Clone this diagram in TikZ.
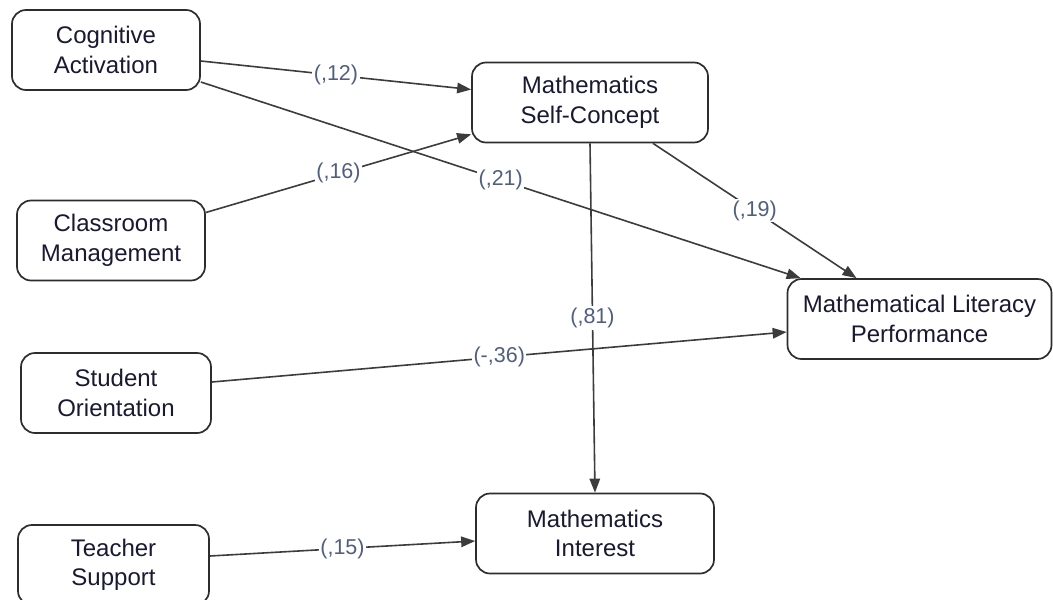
\documentclass[tikz,border=0pt]{standalone}
\usepackage{fontspec}
\setmainfont{Liberation Sans}
\usetikzlibrary{arrows.meta}
\definecolor{boxline}{RGB}{45,45,45}
\definecolor{edgeline}{RGB}{60,60,60}
\definecolor{nodetext}{RGB}{25,25,50}
\definecolor{coeftext}{RGB}{80,94,128}
\begin{document}
\begin{tikzpicture}[x=1pt,y=-1pt,
  var/.style={draw=boxline, line width=1.7pt, rounded corners=14pt, fill=white,
    minimum height=80pt, align=center, text=nodetext, inner sep=0pt,
    font=\fontsize{24}{29.5}\selectfont},
  link/.style={draw=edgeline, line width=1.6pt, -{Triangle[length=14pt,width=10.5pt]}},
  coef/.style={fill=white, text=coeftext, inner sep=1.5pt, midway,
    font=\fontsize{21.5}{24}\selectfont}
]
\useasboundingbox (0,0) rectangle (1053,600);
\clip (0,0) rectangle (1053,600);

% latent variables
\node[var, minimum width=188pt] (ca)  at (106,50)    {Cognitive\\Activation};
\node[var, minimum width=236pt] (sc)  at (590,102.5) {Mathematics\\Self-Concept};
\node[var, minimum width=188pt] (cm)  at (111,240.5) {Classroom\\Management};
\node[var, minimum width=264pt] (mlp) at (919.5,319) {Mathematical Literacy\\Performance};
\node[var, minimum width=190pt] (so)  at (116,393)   {Student\\Orientation};
\node[var, minimum width=238pt] (mi)  at (595,533.5) {Mathematics\\Interest};
\node[var, minimum width=191pt] (ts)  at (113.5,565) {Teacher\\Support};

% path coefficients
\draw[link] ([yshift=-11pt]ca.east) -- node[coef]{(,12)} ([yshift=13pt]sc.west);
\draw[link] ([yshift=-32pt]ca.east) -- node[coef]{(,21)} ([xshift=14pt]mlp.north west);
\draw[link] ([yshift=28pt]cm.east) -- node[coef]{(,16)} ([yshift=9pt]sc.south west);
\draw[link] ([xshift=63pt]sc.south) -- node[coef]{(,19)} ([xshift=-63pt]mlp.north);
\draw[link] (sc.south) -- node[coef]{(,81)} (mi.north);
\draw[link] ([yshift=11pt]so.east) -- node[coef]{(-,36)} ([yshift=-13pt]mlp.west);
\draw[link] ([yshift=9pt]ts.east) -- node[coef]{(,15)} ([yshift=-7.5pt]mi.west);
\end{tikzpicture}
\end{document}
